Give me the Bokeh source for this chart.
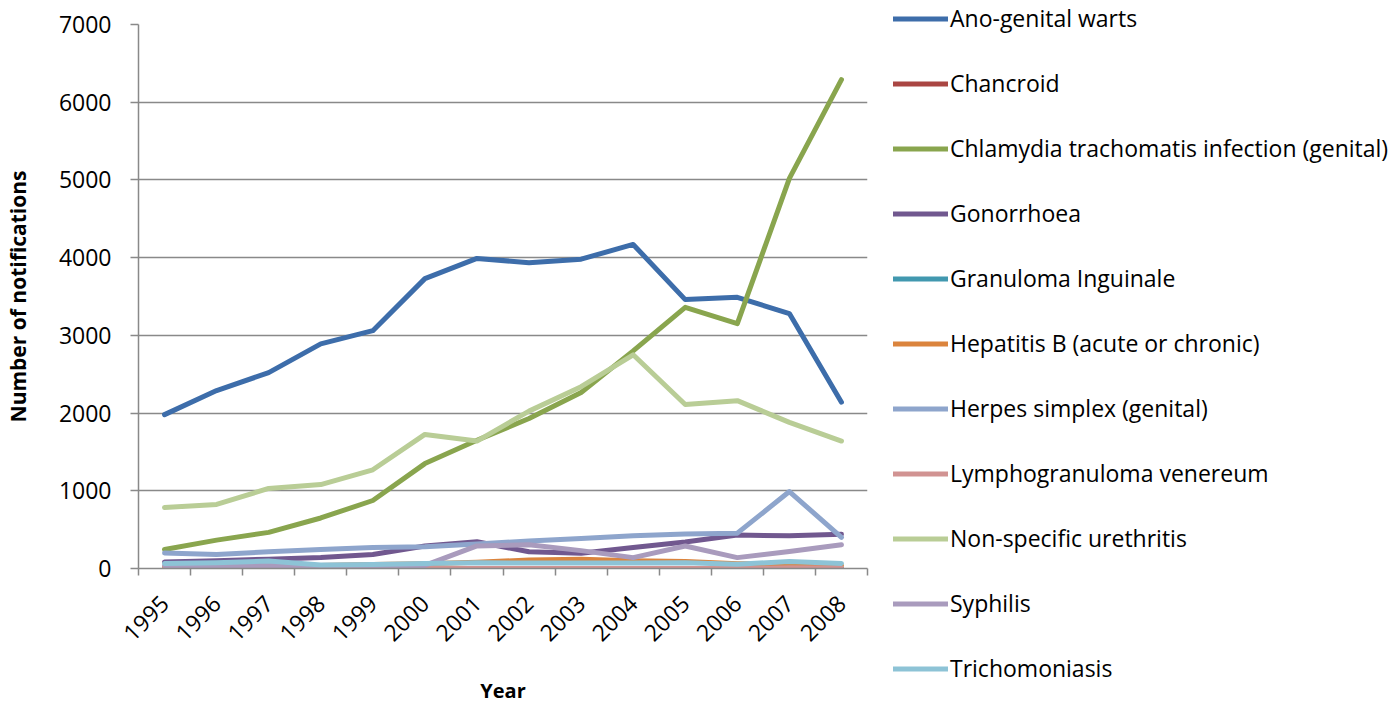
import numpy as np
from bokeh.plotting import figure
from bokeh.models import FixedTicker, Legend, LegendItem, Range1d
from bokeh.embed import file_html
from bokeh.resources import INLINE

years = ["1995", "1996", "1997", "1998", "1999", "2000", "2001",
         "2002", "2003", "2004", "2005", "2006", "2007", "2008"]

series_names = [
    "Ano-genital warts",
    "Chancroid",
    "Chlamydia trachomatis infection (genital)",
    "Gonorrhoea",
    "Granuloma Inguinale",
    "Hepatitis B (acute or chronic)",
    "Herpes simplex (genital)",
    "Lymphogranuloma venereum",
    "Non-specific urethritis",
    "Syphilis",
    "Trichomoniasis",
]

warts      = [1980, 2290, 2520, 2890, 3060, 3730, 3990, 3935, 3980, 4170, 3460, 3490, 3280, 2140]
chancroid  = [0, 0, 0, 0, 0, 0, 0, 0, 0, 0, 0, 0, 0, 0]
chlamydia  = [245, 365, 465, 650, 875, 1350, 1650, 1930, 2265, 2800, 3360, 3150, 5020, 6290]
gonorrhoea = [85, 100, 120, 140, 180, 290, 345, 215, 195, 270, 340, 430, 420, 440]
granuloma  = [3, 2, 2, 1, 1, 1, 1, 1, 0, 0, 0, 0, 0, 0]
hepatitisb = [15, 20, 30, 40, 50, 60, 80, 110, 120, 100, 90, 60, 60, 40]
herpes     = [200, 180, 215, 245, 270, 280, 315, 355, 385, 420, 445, 455, 990, 400]
lgv        = [0, 0, 0, 0, 0, 0, 0, 0, 0, 0, 0, 0, 10, 5]
nsu        = [785, 825, 1030, 1080, 1270, 1725, 1640, 2025, 2340, 2750, 2110, 2160, 1880, 1640]
syphilis   = [40, 30, 40, 30, 30, 40, 290, 305, 230, 140, 290, 140, 220, 305]
trich      = [65, 75, 95, 45, 50, 65, 75, 70, 70, 70, 75, 55, 90, 65]

all_series = [warts, chancroid, chlamydia, gonorrhoea, granuloma, hepatitisb,
              herpes, lgv, nsu, syphilis, trich]

colors = ["#3D6DAA", "#AA4643", "#89A54E", "#71588F", "#4198AF", "#DB843D",
          "#8EA5CC", "#D19392", "#B9CD96", "#A99BBD", "#8DC3D6"]

y_ticks = [0, 1000, 2000, 3000, 4000, 5000, 6000, 7000]

FONT = "Open Sans"
GRID = "#898989"

xs = list(range(len(years)))

p = figure(frame_width=729, frame_height=544,
           min_border_left=135, min_border_top=24, min_border_bottom=136,
           min_border_right=531,
           x_range=Range1d(-0.5, len(years) - 0.5),
           y_range=Range1d(0, 7000),
           output_backend="svg", toolbar_location=None)

p.outline_line_color = None
p.background_fill_color = "white"
p.border_fill_color = "white"

# grid
p.xgrid.grid_line_color = None
p.ygrid.grid_line_color = GRID
p.ygrid.grid_line_width = 1.5
p.ygrid.ticker = FixedTicker(ticks=y_ticks)

# y axis
p.yaxis.ticker = FixedTicker(ticks=y_ticks)
p.yaxis.axis_line_color = GRID
p.yaxis.axis_line_width = 1.5
p.yaxis.major_tick_line_color = GRID
p.yaxis.major_tick_line_width = 1.5
p.yaxis.major_tick_out = 8
p.yaxis.major_tick_in = 0
p.yaxis.minor_tick_line_color = None
p.yaxis.major_label_text_font = FONT
p.yaxis.major_label_text_font_size = "23px"
p.yaxis.major_label_text_color = "black"
p.yaxis.major_label_standoff = 19
p.yaxis.axis_label = "Number of notifications"
p.yaxis.axis_label_text_font = FONT
p.yaxis.axis_label_text_font_style = "bold"
p.yaxis.axis_label_text_font_size = "21px"
p.yaxis.axis_label_text_color = "black"
p.yaxis.axis_label_standoff = 24

# x axis
p.xaxis.ticker = FixedTicker(ticks=xs, minor_ticks=[i - 0.5 for i in range(len(years) + 1)])
p.xaxis.major_label_overrides = {i: y for i, y in enumerate(years)}
p.xaxis.axis_line_color = GRID
p.xaxis.axis_line_width = 1.5
p.xaxis.major_tick_line_color = None
p.xaxis.major_tick_out = 0
p.xaxis.major_tick_in = 0
p.xaxis.minor_tick_line_color = GRID
p.xaxis.minor_tick_line_width = 1.5
p.xaxis.minor_tick_out = 7
p.xaxis.minor_tick_in = 0
p.xaxis.major_label_orientation = np.pi / 4
p.xaxis.major_label_text_font = FONT
p.xaxis.major_label_text_font_size = "23px"
p.xaxis.major_label_text_color = "black"
p.xaxis.major_label_standoff = 24
p.xaxis.axis_label = "Year"
p.xaxis.axis_label_text_font = FONT
p.xaxis.axis_label_text_font_style = "bold"
p.xaxis.axis_label_text_font_size = "20px"
p.xaxis.axis_label_text_color = "black"
p.xaxis.axis_label_standoff = 25

items = []
for name, vals, col in zip(series_names, all_series, colors):
    r = p.line(xs, vals, line_width=5, color=col, line_cap="round", line_join="round")
    items.append(LegendItem(label=name, renderers=[r]))

legend = Legend(items=items, location=(26, -116),
                orientation="vertical",
                label_text_font=FONT, label_text_font_size="23px",
                label_text_color="black",
                glyph_width=55, glyph_height=31, label_height=31,
                label_standoff=2, spacing=33, padding=0, margin=0,
                border_line_color=None, background_fill_alpha=0)
p.add_layout(legend, "right")

open("out.html", "w").write(file_html(p, INLINE))
